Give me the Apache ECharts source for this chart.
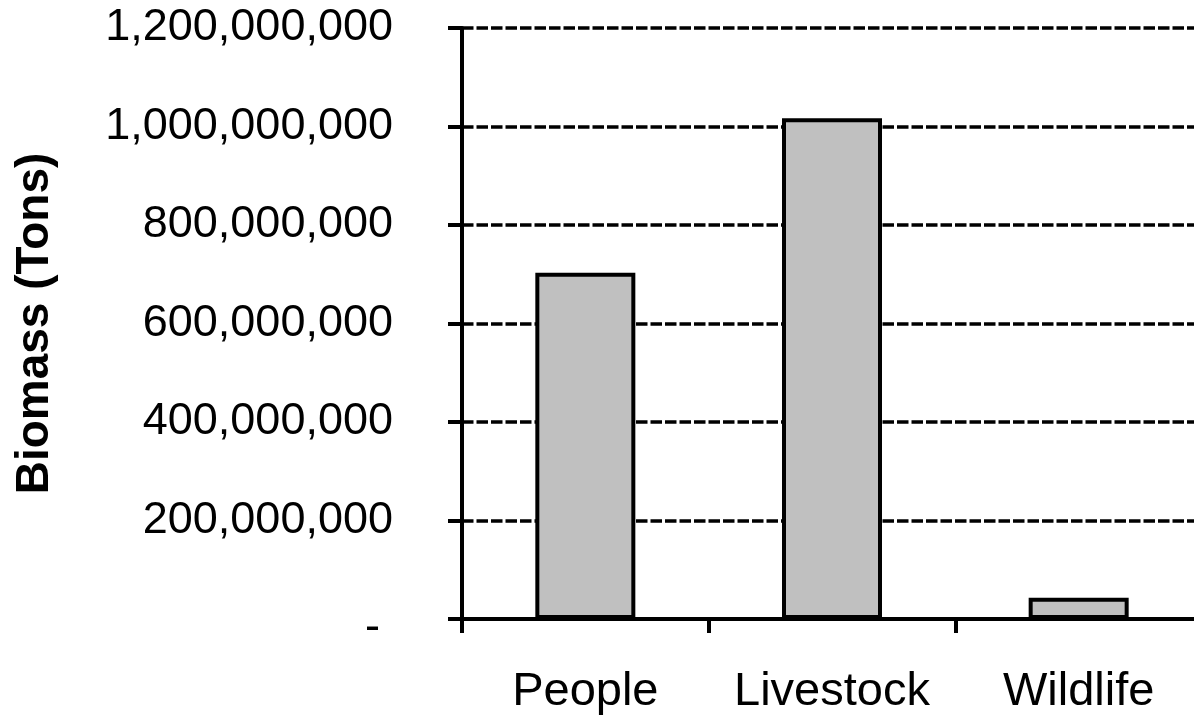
<!DOCTYPE html>
<html>
<head>
<meta charset="utf-8">
<script src="https://cdn.jsdelivr.net/npm/echarts@6/dist/echarts.min.js"></script>
<style>
html,body{margin:0;padding:0;background:#fff;overflow:hidden;}
#chart{width:1194px;height:721px;}
</style>
</head>
<body>
<div id="chart"></div>
<script>
const categories = ['People', 'Livestock', 'Wildlife'];
const biomass = [703000000, 1017000000, 43000000];
const yTicks = [0, 200000000, 400000000, 600000000, 800000000, 1000000000, 1200000000];
const yTitle = 'Biomass (Tons)';

const chart = echarts.init(document.getElementById('chart'));
const font = 'Liberation Sans, Arial, sans-serif';
chart.setOption({
  animation: false,
  backgroundColor: '#fff',
  grid: { left: 462, top: 28, width: 740, height: 591, containLabel: false, outerBoundsMode: 'none' },
  xAxis: {
    type: 'category',
    data: categories,
    axisLine: { lineStyle: { color: '#000', width: 4 } },
    axisTick: { show: true, interval: 0, length: 14, lineStyle: { color: '#000', width: 4 } },
    axisLabel: { color: '#000', fontFamily: font, fontSize: 47, margin: 50, interval: 0 },
    splitLine: { show: false }
  },
  yAxis: {
    type: 'value',
    min: yTicks[0],
    max: yTicks[yTicks.length - 1],
    interval: yTicks[1] - yTicks[0],
    name: yTitle,
    nameLocation: 'middle',
    nameGap: 404,
    nameTextStyle: { color: '#000', fontFamily: font, fontSize: 46, fontWeight: 'bold' },
    axisLine: { show: true, lineStyle: { color: '#000', width: 4 } },
    axisTick: { show: true, length: 14, lineStyle: { color: '#000', width: 4 } },
    axisLabel: {
      color: '#000', fontFamily: font, fontSize: 45, margin: 69,
      formatter: function (v) { return v === 0 ? '{z|-}' : v.toLocaleString('en-US'); },
      rich: { z: { fontFamily: font, fontSize: 45, color: '#000', padding: [18, 13, 0, 0] } }
    },
    splitLine: { show: true, lineStyle: { color: '#000', width: 3.5, type: [11.5, 3] } }
  },
  series: [{
    type: 'bar',
    data: biomass,
    barWidth: 100,
    itemStyle: { color: '#c0c0c0', borderColor: '#000', borderWidth: 4 }
  }]
});
</script>
</body>
</html>
